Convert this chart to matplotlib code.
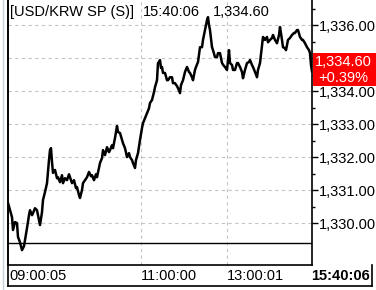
import numpy as np
import matplotlib as mpl
mpl.use('Agg')
import matplotlib.pyplot as plt
from matplotlib.lines import Line2D
from matplotlib.patches import Rectangle
from matplotlib.ticker import FixedLocator, FuncFormatter

plt.rcParams['font.family'] = ['Liberation Sans', 'DejaVu Sans']

# tick bucket number (x) and traded price (y)
tick_no = [0, 2, 4, 5, 7, 9, 10, 12, 14, 16,
           17, 19, 21, 22, 24, 25, 27, 29, 31, 32,
           34, 35, 37, 39, 41, 42, 43, 44, 45, 47,
           49, 50, 52, 54, 55, 57, 59, 61, 62, 64,
           66, 68, 69, 71, 72, 74, 75, 77, 79, 81,
           83, 84, 86, 88, 89, 91, 92, 94, 95, 97,
           99, 101, 102, 104, 105, 107, 109, 110, 112, 114,
           115, 117, 119, 121, 122, 124, 125, 127, 128, 130,
           132, 134, 135, 137, 139, 141, 142, 144, 146, 147,
           149, 150, 151, 152, 153, 154, 155, 157, 159, 160,
           162, 164, 165, 167, 169, 170, 172, 173, 175, 177,
           179, 181, 182, 184, 185, 187, 188, 190, 192, 194,
           195, 197, 199, 200, 201, 202, 204, 205, 207, 209,
           210, 212, 214, 216, 217, 219, 221, 222, 224, 225,
           227, 229, 230, 232, 234, 235, 237, 239, 241, 242,
           244, 245, 247, 249, 250, 252, 254, 255, 257, 259,
           260, 262, 264, 265, 267, 269, 271, 272, 274, 275,
           277, 278, 280, 282, 284, 286, 287, 289, 290, 292,
           294, 295, 297, 299, 301, 302, 303, 304]
price = [1330.61, 1330.39, 1330.18, 1329.79, 1330.03, 1330.00, 1329.58, 1329.42, 1329.18, 1329.30,
         1329.48, 1329.85, 1330.24, 1330.39, 1330.24, 1330.30, 1330.45, 1330.39, 1330.09, 1329.94,
         1330.33, 1330.70, 1330.94, 1331.21, 1331.91, 1332.21, 1332.27, 1331.85, 1331.52, 1331.61,
         1331.36, 1331.39, 1331.24, 1331.45, 1331.21, 1331.36, 1331.30, 1331.48, 1331.39, 1331.21,
         1331.30, 1331.06, 1331.09, 1330.85, 1330.76, 1331.00, 1331.21, 1331.30, 1331.39, 1331.55,
         1331.42, 1331.45, 1331.30, 1331.48, 1331.39, 1331.67, 1331.82, 1331.97, 1332.21, 1332.06,
         1332.30, 1332.15, 1332.21, 1332.36, 1332.27, 1332.58, 1332.94, 1332.76, 1332.73, 1332.52,
         1332.42, 1332.27, 1332.00, 1332.12, 1332.00, 1331.91, 1331.82, 1331.67, 1331.91, 1332.12,
         1332.52, 1332.88, 1333.03, 1333.18, 1333.33, 1333.48, 1333.64, 1333.73, 1333.97, 1334.12,
         1334.33, 1334.85, 1334.88, 1334.94, 1334.70, 1334.73, 1334.55, 1334.55, 1334.33, 1334.33,
         1334.42, 1334.42, 1334.24, 1334.24, 1334.15, 1334.09, 1333.94, 1334.18, 1334.33, 1334.58,
         1334.73, 1334.58, 1334.55, 1334.42, 1334.33, 1334.64, 1334.73, 1334.88, 1335.33, 1335.33,
         1335.55, 1335.85, 1336.15, 1336.24, 1336.00, 1335.85, 1335.33, 1335.24, 1335.03, 1335.03,
         1335.15, 1335.15, 1334.85, 1334.76, 1334.73, 1334.64, 1335.24, 1334.85, 1334.79, 1334.64,
         1334.64, 1334.85, 1334.85, 1334.73, 1334.58, 1334.39, 1334.64, 1334.85, 1334.88, 1334.94,
         1334.79, 1334.73, 1334.58, 1334.42, 1334.64, 1334.85, 1335.39, 1335.64, 1335.55, 1335.64,
         1335.48, 1335.55, 1335.61, 1335.70, 1335.55, 1335.45, 1335.70, 1335.94, 1335.55, 1335.33,
         1335.30, 1335.24, 1335.55, 1335.61, 1335.70, 1335.76, 1335.76, 1335.85, 1335.85, 1335.64,
         1335.55, 1335.55, 1335.45, 1335.33, 1335.24, 1335.15, 1334.79, 1334.60]

prev_close = 1329.40
last_price = 1334.60
change_pct = 0.39
y_major = [1330, 1331, 1332, 1333, 1334, 1335, 1336]
y_hidden = [1335]  # label sits under the red last-price box
y_minor = [1330.5, 1331.5, 1332.5, 1333.5, 1334.5, 1335.5, 1336.5]
x_tick_pos = [1, 133, 219]
x_tick_lab = ["09:00:05", "11:00:00", "13:00:01"]
vgrid_pos = [133, 219]
title = "[USD/KRW SP (S)]"
last_time = "15:40:06"

W, H = 376, 290
FS = 10.5


def fx(x):
    return x / W


def fy(y):
    return 1 - y / H


def price_label(v, pos):
    if v in y_hidden:
        return ""
    return "{:,.2f}".format(v)


fig = plt.figure(figsize=(W / 100, H / 100), dpi=100)
ax = fig.add_axes([fx(8), fy(265), (312 - 8) / W, 265 / H])

ax.set_xlim(0, 304)
ax.set_ylim(1328.73, 1336.76)

dash = (0, (3, 3))
for v in y_major:
    ax.axhline(v, color='#c4c4c4', lw=0.8, ls=dash, zorder=1)
for v in vgrid_pos:
    ax.axvline(v, color='#c4c4c4', lw=0.8, ls=dash, zorder=1)

ax.axhline(prev_close, color='black', lw=1.0, zorder=2)
ax.plot(tick_no, price, color='black', lw=1.8, zorder=3)

# right price axis
ax.yaxis.tick_right()
ax.yaxis.set_major_locator(FixedLocator(y_major))
ax.yaxis.set_minor_locator(FixedLocator(y_minor))
ax.yaxis.set_major_formatter(FuncFormatter(price_label))
ax.tick_params(axis='y', which='major', direction='out', length=4, width=1,
               pad=1, labelsize=FS, colors='black')
ax.tick_params(axis='y', which='minor', direction='out', length=2, width=1)

ax.set_xticks(x_tick_pos)
ax.set_xticklabels(x_tick_lab, ha='left')
ax.tick_params(axis='x', length=0, pad=3, labelsize=FS)

ax.spines['top'].set_visible(False)
for s in ['left', 'right', 'bottom']:
    ax.spines[s].set_linewidth(1.2)
    ax.spines[s].set_color('black')

# frame pieces around the chart
fig.add_artist(Line2D([fx(2.5), fx(2.5)], [0, 1], color='#c9d0dc', lw=1.0))
fig.add_artist(Line2D([fx(7.5), fx(7.5)], [fy(286), 1], color='black', lw=1.2))
fig.add_artist(Line2D([fx(7.5), fx(372)], [fy(286), fy(286)], color='black', lw=1.2))
fig.add_artist(Line2D([fx(372), fx(372)], [fy(286), fy(265)], color='black', lw=1.2))

# header text
fig.text(fx(10), fy(12), title, fontsize=FS, va='center', ha='left')
fig.text(fx(143), fy(12), last_time, fontsize=FS, va='center', ha='left')
fig.text(fx(213), fy(12), "{:,.2f}".format(last_price), fontsize=FS, va='center', ha='left')

# last price box
fig.add_artist(Rectangle((fx(312.5), fy(86)), fx(376 - 312.5), (86 - 53) / H,
                         facecolor='#ff0000', edgecolor='none', zorder=5))
fig.text(fx(343), fy(62), "{:,.2f}".format(last_price), color='white', fontsize=FS,
         ha='center', va='center', zorder=6)
fig.text(fx(343), fy(78), "+{:.2f}%".format(change_pct), color='white', fontsize=FS,
         ha='center', va='center', zorder=6)

fig.text(fx(370), fy(276), last_time, fontsize=FS, fontweight='bold',
         ha='right', va='center')

fig.savefig('out.png', dpi=100)
